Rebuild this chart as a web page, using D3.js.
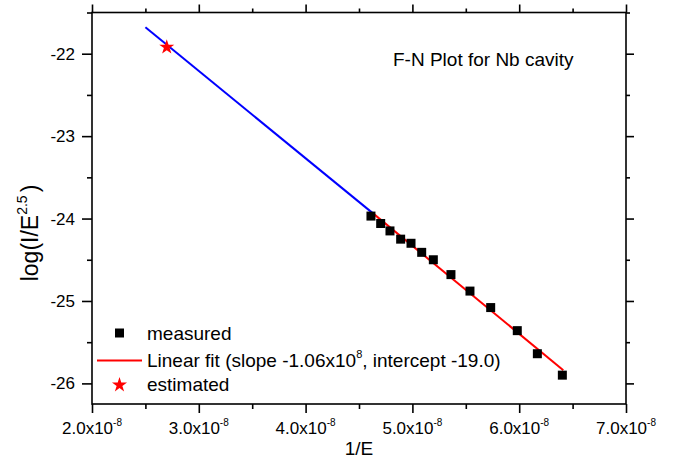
<!DOCTYPE html>
<html><head><meta charset="utf-8">
<script src="https://cdn.jsdelivr.net/npm/d3@7/dist/d3.min.js"></script>
<style>
body{margin:0;background:#fff}
svg{display:block}
text{font-family:"Liberation Sans",Arial,sans-serif;fill:#000}
</style>
</head><body>
<script>
// ---- data ----
const measuredX = [4.612e-8, 4.703e-8, 4.790e-8, 4.890e-8, 4.987e-8, 5.087e-8, 5.196e-8, 5.361e-8, 5.539e-8, 5.733e-8, 5.982e-8, 6.170e-8, 6.404e-8];
const measuredY = [-23.97, -24.06, -24.15, -24.25, -24.30, -24.41, -24.50, -24.68, -24.88, -25.08, -25.36, -25.64, -25.90];
const estimatedX = [2.70e-8];
const estimatedY = [-21.92];
const fitX = [4.634e-8, 6.413e-8];
const fitY = [-23.94, -25.84];
const extrapX = [2.50e-8, 4.634e-8];
const extrapY = [-21.68, -23.94];
const xMajorTicks = [2e-8, 3e-8, 4e-8, 5e-8, 6e-8, 7e-8];
const xTickLabels = ["2.0x10", "3.0x10", "4.0x10", "5.0x10", "6.0x10", "7.0x10"];
const xTickExp = "-8";
const xMinorTicks = [2.5e-8, 3.5e-8, 4.5e-8, 5.5e-8, 6.5e-8];
const yMajorTicks = [-22, -23, -24, -25, -26];
const yTickLabels = ["-22", "-23", "-24", "-25", "-26"];
const yMinorTicks = [-21.5, -22.5, -23.5, -24.5, -25.5];
const legendLabels = ["measured", "Linear fit (slope -1.06x10", "estimated"];

// ---- layout ----
const W = 673, H = 464;
const L = 92, R = 626, T = 12.5, B = 404;
const svg = d3.select("body").append("svg").attr("width", W).attr("height", H);

const x = d3.scaleLinear().domain([2e-8, 7e-8]).range([L, R]);
const y = d3.scaleLinear().domain([-26.25, -21.5]).range([B, T]);

const axW = 1.6;
function styleAxis(g) {
  g.select(".domain").remove();
  g.selectAll(".tick line").attr("stroke", "#000").attr("stroke-width", axW);
  g.selectAll(".tick text").remove();
}
// bottom
svg.append("g").attr("transform", `translate(0,${B})`)
  .call(d3.axisBottom(x).tickValues(xMajorTicks).tickSize(9)).call(styleAxis);
svg.append("g").attr("transform", `translate(0,${B})`)
  .call(d3.axisBottom(x).tickValues(xMinorTicks).tickSize(5)).call(styleAxis);
// top
svg.append("g").attr("transform", `translate(0,${T})`)
  .call(d3.axisTop(x).tickValues(xMajorTicks).tickSize(8)).call(styleAxis);
svg.append("g").attr("transform", `translate(0,${T})`)
  .call(d3.axisTop(x).tickValues(xMinorTicks).tickSize(4)).call(styleAxis);
// left
svg.append("g").attr("transform", `translate(${L},0)`)
  .call(d3.axisLeft(y).tickValues(yMajorTicks).tickSize(10)).call(styleAxis);
svg.append("g").attr("transform", `translate(${L},0)`)
  .call(d3.axisLeft(y).tickValues(yMinorTicks).tickSize(5)).call(styleAxis);
// right
svg.append("g").attr("transform", `translate(${R},0)`)
  .call(d3.axisRight(y).tickValues(yMajorTicks).tickSize(8)).call(styleAxis);
svg.append("g").attr("transform", `translate(${R},0)`)
  .call(d3.axisRight(y).tickValues(yMinorTicks).tickSize(4)).call(styleAxis);

// frame
svg.append("rect").attr("x", L).attr("y", T).attr("width", R - L).attr("height", B - T)
  .attr("fill", "none").attr("stroke", "#000").attr("stroke-width", axW);

// tick labels
const xl = svg.append("g");
xMajorTicks.forEach((v, i) => {
  const t = xl.append("text").attr("x", x(v)).attr("y", B + 30)
    .attr("text-anchor", "middle").style("font-size", "17px");
  t.append("tspan").text(xTickLabels[i]);
  t.append("tspan").attr("dy", -8).style("font-size", "10px").text(xTickExp);
});
svg.append("g").selectAll("text").data(yMajorTicks).join("text")
  .attr("x", L - 17).attr("y", d => y(d) + 6)
  .attr("text-anchor", "end").style("font-size", "17px")
  .text((d, i) => yTickLabels[i]);

// axis titles
svg.append("text").attr("x", (L + R) / 2).attr("y", 455).attr("text-anchor", "middle")
  .style("font-size", "19px").text("1/E");
const yt = svg.append("text").attr("transform", `translate(38,233) rotate(-90)`)
  .attr("text-anchor", "middle").style("font-size", "23px");
yt.append("tspan").text("log(I/E");
yt.append("tspan").attr("dy", -11).style("font-size", "14px").text("2.5");
yt.append("tspan").attr("dy", 11).attr("dx", 3).text(")");

// plot title
svg.append("text").attr("x", 393).attr("y", 66).style("font-size", "19px").text("F-N Plot for Nb cavity");

// lines
const line = d3.line().x(d => x(d[0])).y(d => y(d[1]));
svg.append("path").datum(d3.zip(extrapX, extrapY)).attr("d", line)
  .attr("fill", "none").attr("stroke", "#0000ff").attr("stroke-width", 2);
svg.append("path").datum(d3.zip(fitX, fitY)).attr("d", line)
  .attr("fill", "none").attr("stroke", "#ff0000").attr("stroke-width", 2);

// measured points
svg.append("g").selectAll("path").data(d3.zip(measuredX, measuredY)).join("path")
  .attr("transform", d => `translate(${x(d[0])},${y(d[1])})`)
  .attr("d", d3.symbol(d3.symbolSquare, 81)).attr("fill", "#000");

// estimated star
svg.append("g").selectAll("path").data(d3.zip(estimatedX, estimatedY)).join("path")
  .attr("transform", d => `translate(${x(d[0])},${y(d[1])})`)
  .attr("d", d3.symbol(d3.symbolStar, 70)).attr("fill", "#ff0000");

// legend
const lg = svg.append("g");
lg.append("path").attr("transform", "translate(119.5,333)")
  .attr("d", d3.symbol(d3.symbolSquare, 81)).attr("fill", "#000");
lg.append("line").attr("x1", 97).attr("x2", 142).attr("y1", 360.5).attr("y2", 360.5)
  .attr("stroke", "#ff0000").attr("stroke-width", 2);
lg.append("path").attr("transform", "translate(119.5,385)")
  .attr("d", d3.symbol(d3.symbolStar, 70)).attr("fill", "#ff0000");
lg.append("text").attr("x", 147).attr("y", 340).style("font-size", "19px").text(legendLabels[0]);
const lt = lg.append("text").attr("x", 147).attr("y", 367).style("font-size", "19px");
lt.append("tspan").text(legendLabels[1]);
lt.append("tspan").attr("dy", -9).style("font-size", "11px").text("8");
lt.append("tspan").attr("dy", 9).text(", intercept -19.0)");
lg.append("text").attr("x", 147).attr("y", 391).style("font-size", "19px").text(legendLabels[2]);
</script>
</body></html>
